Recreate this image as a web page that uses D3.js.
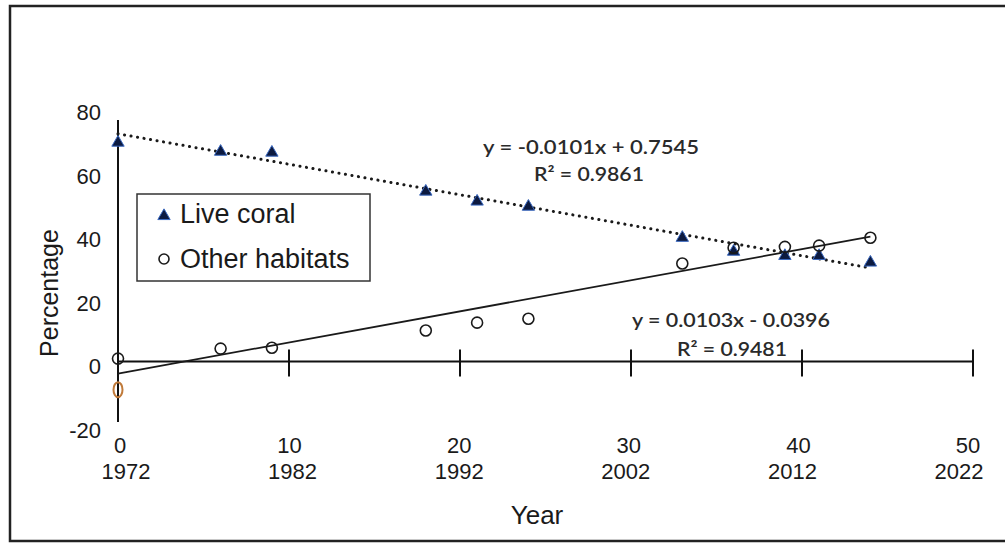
<!DOCTYPE html>
<html>
<head>
<meta charset="utf-8">
<script src="https://cdn.jsdelivr.net/npm/d3@7"></script>
<style>
  body { margin: 0; background: #fff; }
  text { font-family: "Liberation Sans", Arial, sans-serif; fill: #1a1a1a; }
  .eq { font-family: Lato, "Open Sans", sans-serif; fill: #2a2a2a; font-weight: 600; }
</style>
</head>
<body>
<svg width="1005" height="543"></svg>
<script>
// years since 1972
var years = [0, 6, 9, 18, 21, 24, 33, 36, 39, 41, 44];
var liveCoral = [72.5, 69.5, 69.2, 56.3, 53.0, 51.3, 41.0, 36.4, 35.0, 35.0, 32.8];
var otherHabitats = [1.0, 4.3, 4.6, 10.3, 12.9, 14.2, 32.5, 37.7, 38.0, 38.4, 41.0];
var strayPoint = [0, -9.3];

var xTicks = [0, 10, 20, 30, 40, 50];
var xTickYears = ["1972", "1982", "1992", "2002", "2012", "2022"];
var yTicks = [80, 60, 40, 20, 0, -20];

// trend lines: slope / intercept in fraction units (from chart labels)
var coralFit = { slope: -0.0101, intercept: 0.7545, r2: "0.9861" };
var otherFit = { slope: 0.0103, intercept: -0.0396, r2: "0.9481" };

var svg = d3.select("svg");

var x = d3.scaleLinear().domain([0, 50]).range([118, 973]);
var y = d3.scaleLinear().domain([-20, 80]).range([422, 120]);
// the labels in the picture sit a little apart from the axis positions
var xNumLabel = d3.scaleLinear().domain([0, 50]).range([120, 968]);
var xYearLabel = d3.scaleLinear().domain([0, 50]).range([126, 959]);
var yLabel = d3.scaleLinear().domain([-20, 80]).range([431, 113]);

// frame
svg.append("path")
    .attr("d", "M1010,6 H10 V541 H1010")
    .attr("fill", "none")
    .attr("stroke", "#222")
    .attr("stroke-width", 2.5);

// axes
svg.append("line")
    .attr("x1", x(0)).attr("x2", x(50))
    .attr("y1", y(0)).attr("y2", y(0))
    .attr("stroke", "#111").attr("stroke-width", 2);

svg.append("line")
    .attr("x1", x(0)).attr("x2", x(0))
    .attr("y1", y(80)).attr("y2", y(-20))
    .attr("stroke", "#111").attr("stroke-width", 2);

svg.append("g").selectAll("line")
    .data(xTicks.slice(1))
    .enter().append("line")
      .attr("x1", function(d) { return x(d); })
      .attr("x2", function(d) { return x(d); })
      .attr("y1", y(0) - 12)
      .attr("y2", y(0) + 15)
      .attr("stroke", "#111").attr("stroke-width", 2);

svg.append("g").selectAll("text")
    .data(xTicks)
    .enter().append("text")
      .attr("x", function(d) { return xNumLabel(d); })
      .attr("y", 453)
      .attr("text-anchor", "middle")
      .style("font-size", "22px")
      .text(function(d) { return d; });

svg.append("g").selectAll("text")
    .data(xTickYears)
    .enter().append("text")
      .attr("x", function(d, i) { return xYearLabel(xTicks[i]); })
      .attr("y", 479)
      .attr("text-anchor", "middle")
      .style("font-size", "22px")
      .text(function(d) { return d; });

svg.append("g").selectAll("text")
    .data(yTicks)
    .enter().append("text")
      .attr("x", 101)
      .attr("y", function(d) { return yLabel(d) + 7; })
      .attr("text-anchor", "end")
      .style("font-size", "22px")
      .text(function(d) { return d; });

svg.append("text")
    .attr("x", 537).attr("y", 524)
    .attr("text-anchor", "middle")
    .style("font-size", "26px")
    .text("Year");

svg.append("text")
    .attr("transform", "translate(58,293) rotate(-90)")
    .attr("text-anchor", "middle")
    .style("font-size", "25px")
    .text("Percentage");

// trend lines
var trendLine = d3.line()
    .x(function(d) { return x(d); });

svg.append("path")
    .datum([0, 44])
    .attr("d", trendLine.y(function(d) { return y(100 * (coralFit.intercept + coralFit.slope * d)); }))
    .attr("fill", "none")
    .attr("stroke", "#1a1a1a")
    .attr("stroke-width", 3)
    .attr("stroke-linecap", "round")
    .attr("stroke-dasharray", "0.1,6.5");

svg.append("path")
    .datum([0, 44])
    .attr("d", trendLine.y(function(d) { return y(100 * (otherFit.intercept + otherFit.slope * d)); }))
    .attr("fill", "none")
    .attr("stroke", "#1a1a1a")
    .attr("stroke-width", 1.8);

// points
var triangle = d3.symbol().type(d3.symbolTriangle).size(66);

svg.append("g").selectAll("path")
    .data(years)
    .enter().append("path")
      .attr("d", triangle)
      .attr("transform", function(d, i) { return "translate(" + x(d) + "," + y(liveCoral[i]) + ")"; })
      .attr("fill", "#0c1a40")
      .attr("stroke", "#3a68bf")
      .attr("stroke-width", 1);

svg.append("g").selectAll("circle")
    .data(years)
    .enter().append("circle")
      .attr("cx", function(d) { return x(d); })
      .attr("cy", function(d, i) { return y(otherHabitats[i]); })
      .attr("r", 5.5)
      .attr("fill", "none")
      .attr("stroke", "#1a1a1a")
      .attr("stroke-width", 1.6);

svg.append("ellipse")
    .attr("cx", x(strayPoint[0]))
    .attr("cy", y(strayPoint[1]))
    .attr("rx", 4.5).attr("ry", 7.5)
    .attr("fill", "none")
    .attr("stroke", "#c07a3a")
    .attr("stroke-width", 2);

// equations (the picture's text is stretched wide, hence textLength)
svg.append("text").attr("class", "eq")
    .attr("x", 483).attr("y", 154)
    .attr("textLength", 216).attr("lengthAdjust", "spacingAndGlyphs")
    .style("font-size", "19px")
    .text("y = " + coralFit.slope + "x + " + coralFit.intercept);

svg.append("text").attr("class", "eq")
    .attr("x", 534).attr("y", 181)
    .attr("textLength", 110).attr("lengthAdjust", "spacingAndGlyphs")
    .style("font-size", "19px")
    .text("R\u00b2 = " + coralFit.r2);

svg.append("text").attr("class", "eq")
    .attr("x", 632).attr("y", 327)
    .attr("textLength", 198).attr("lengthAdjust", "spacingAndGlyphs")
    .style("font-size", "19px")
    .text("y = " + otherFit.slope + "x - " + Math.abs(otherFit.intercept));

svg.append("text").attr("class", "eq")
    .attr("x", 677).attr("y", 356)
    .attr("textLength", 110).attr("lengthAdjust", "spacingAndGlyphs")
    .style("font-size", "19px")
    .text("R\u00b2 = " + otherFit.r2);

// legend
var legend = svg.append("g");

legend.append("rect")
    .attr("x", 137).attr("y", 194)
    .attr("width", 233).attr("height", 87)
    .attr("fill", "#fff")
    .attr("stroke", "#333")
    .attr("stroke-width", 1.5);

legend.append("path")
    .attr("d", triangle)
    .attr("transform", "translate(164,216)")
    .attr("fill", "#0c1a40")
    .attr("stroke", "#3a68bf")
    .attr("stroke-width", 1);

legend.append("circle")
    .attr("cx", 164).attr("cy", 259)
    .attr("r", 5)
    .attr("fill", "none")
    .attr("stroke", "#1a1a1a")
    .attr("stroke-width", 1.6);

legend.append("text")
    .attr("x", 180).attr("y", 223)
    .style("font-size", "27px")
    .text("Live coral");

legend.append("text")
    .attr("x", 180).attr("y", 268)
    .style("font-size", "27px")
    .text("Other habitats");
</script>
</body>
</html>
